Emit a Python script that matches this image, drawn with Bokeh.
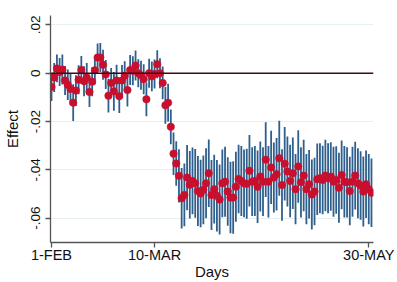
import numpy as np
from bokeh.plotting import figure
from bokeh.models import ColumnDataSource, FixedTicker, Span, Range1d
from bokeh.embed import file_html
from bokeh.resources import INLINE

# ---- data ----
effect = [
    -0.0057, -0.0018, 0.0020, 0.0005, 0.0015, -0.0030, -0.0048, -0.0065, -0.0122, -0.0072,
    -0.0027, 0.0013, -0.0033, -0.0018, -0.0078, -0.0035, 0.0012, 0.0065, 0.0065, 0.0035,
    -0.0005, -0.0093, -0.0040, -0.0075, -0.0030, -0.0095, -0.0030, -0.0010, -0.0070, 0.0013,
    0.0010, 0.0032, 0.0000, -0.0008, -0.0025, -0.0108, 0.0000, -0.0013, -0.0003, 0.0037,
    0.0000, -0.0040, -0.0133, -0.0122, -0.0222, -0.0333, -0.0374, -0.0425, -0.0518, -0.0504,
    -0.0432, -0.0462, -0.0446, -0.0456, -0.0488, -0.0498, -0.0483, -0.0456, -0.0414, -0.0504,
    -0.0480, -0.0507, -0.0523, -0.0456, -0.0449, -0.0490, -0.0515, -0.0515, -0.0470, -0.0438,
    -0.0446, -0.0456, -0.0458, -0.0404, -0.0449, -0.0446, -0.0470, -0.0428, -0.0449, -0.0358,
    -0.0449, -0.0390, -0.0432, -0.0418, -0.0352, -0.0463, -0.0375, -0.0407, -0.0446, -0.0414,
    -0.0480, -0.0386, -0.0452, -0.0424, -0.0480, -0.0460, -0.0502, -0.0490, -0.0439, -0.0435,
    -0.0442, -0.0424, -0.0435, -0.0428, -0.0449, -0.0442, -0.0474, -0.0421, -0.0449, -0.0452,
    -0.0488, -0.0449, -0.0424, -0.0456, -0.0465, -0.0490, -0.0460, -0.0480, -0.0495,
]
halfwidth = [
    0.0058, 0.0060, 0.0057, 0.0058, 0.0062, 0.0060, 0.0063, 0.0066, 0.0076, 0.0064,
    0.0060, 0.0058, 0.0062, 0.0060, 0.0062, 0.0060, 0.0058, 0.0058, 0.0060, 0.0062,
    0.0060, 0.0070, 0.0062, 0.0080, 0.0065, 0.0070, 0.0064, 0.0060, 0.0068, 0.0062,
    0.0060, 0.0062, 0.0058, 0.0060, 0.0062, 0.0070, 0.0060, 0.0062, 0.0060, 0.0058,
    0.0062, 0.0068, 0.0076, 0.0078, 0.0072, 0.0088, 0.0092, 0.0110, 0.0125, 0.0130,
    0.0135, 0.0140, 0.0138, 0.0142, 0.0145, 0.0140, 0.0142, 0.0145, 0.0140, 0.0145,
    0.0142, 0.0148, 0.0145, 0.0140, 0.0145, 0.0142, 0.0148, 0.0150, 0.0145, 0.0142,
    0.0145, 0.0140, 0.0145, 0.0148, 0.0142, 0.0145, 0.0150, 0.0145, 0.0142, 0.0155,
    0.0148, 0.0152, 0.0145, 0.0150, 0.0155, 0.0148, 0.0152, 0.0145, 0.0150, 0.0148,
    0.0145, 0.0150, 0.0145, 0.0148, 0.0145, 0.0142, 0.0145, 0.0140, 0.0148, 0.0145,
    0.0142, 0.0148, 0.0145, 0.0142, 0.0145, 0.0140, 0.0145, 0.0142, 0.0148, 0.0145,
    0.0142, 0.0145, 0.0140, 0.0145, 0.0142, 0.0145, 0.0140, 0.0145, 0.0142,
]
days = list(range(len(effect)))

x_tick_pos = [0, 38, 117]
x_tick_labels = ["1-FEB", "10-MAR", "30-MAY"]
y_tick_pos = [0.02, 0.0, -0.02, -0.04, -0.06]
y_tick_labels = [".02", "0", "-.02", "-.04", "-.06"]

eff = np.array(effect)
hw = np.array(halfwidth)
src = ColumnDataSource(dict(x=days, y=effect, lo=(eff - hw).tolist(), hi=(eff + hw).tolist()))

FONT = "Liberation Sans"

p = figure(width=397, height=282, output_backend="svg", toolbar_location=None,
           x_range=Range1d(-0.37, 118.75), y_range=Range1d(-0.0701, 0.0239),
           min_border_left=50, min_border_right=24, min_border_top=15, min_border_bottom=40)
p.outline_line_color = None
p.background_fill_color = "white"
p.border_fill_color = "white"

# grid
p.xgrid.grid_line_color = None
p.ygrid.grid_line_color = "#E6EFF1"
p.ygrid.grid_line_width = 1.2
p.ygrid.ticker = FixedTicker(ticks=y_tick_pos)

# axes
for ax in (p.xaxis[0], p.yaxis[0]):
    ax.axis_line_color = "#555555"
    ax.axis_line_width = 1.3
    ax.major_tick_line_color = "#555555"
    ax.major_tick_line_width = 1.3
    ax.major_tick_out = 5
    ax.major_tick_in = 0
    ax.minor_tick_line_color = None
    ax.major_label_text_font = FONT
    ax.major_label_text_color = "#111111"
    ax.axis_label_text_font = FONT
    ax.axis_label_text_font_style = "normal"
    ax.axis_label_text_color = "#111111"
    ax.axis_label_text_font_size = "15px"

p.xaxis.ticker = FixedTicker(ticks=x_tick_pos)
p.xaxis.major_label_overrides = {t: l for t, l in zip(x_tick_pos, x_tick_labels)}
p.xaxis.major_label_text_font_size = "14.5px"
p.xaxis.major_label_standoff = -1
p.xaxis.axis_label = "Days"
p.xaxis.axis_label_standoff = -3

p.yaxis.ticker = FixedTicker(ticks=y_tick_pos)
p.yaxis.major_label_overrides = {t: l for t, l in zip(y_tick_pos, y_tick_labels)}
p.yaxis.major_label_orientation = "vertical"
p.yaxis.major_label_text_font_size = "13.5px"
p.yaxis.major_label_standoff = 5
p.yaxis.axis_label = "Effect"
p.yaxis.axis_label_standoff = 8

# zero reference line
p.add_layout(Span(location=0, dimension="width", line_color="#3D0A14", line_width=1.6))

# confidence intervals and point estimates
p.segment(x0="x", y0="lo", x1="x", y1="hi", source=src, line_color="#2F5F8C", line_width=1.8)
p.scatter(x="x", y="y", source=src, size=7.5, fill_color="#C8102E", line_color="#C8102E",
          line_width=0.5)

open("out.html", "w").write(file_html(p, INLINE))
